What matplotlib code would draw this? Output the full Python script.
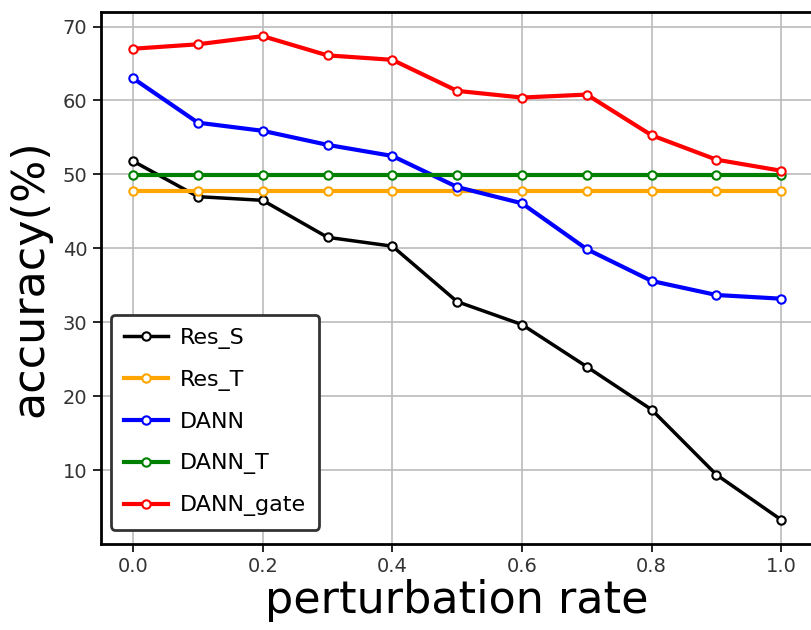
import matplotlib
matplotlib.use('Agg')
import matplotlib.pyplot as plt

# taxa de perturbacao e acuracias
rates = [0.0, 0.1, 0.2, 0.3, 0.4, 0.5, 0.6, 0.7, 0.8, 0.9, 1.0]
res_s = [51.8, 47.0, 46.5, 41.5, 40.3, 32.8, 29.7, 24.0, 18.2, 9.4, 3.3]
res_t = [47.8] * 11
dann = [63.0, 57.0, 55.9, 54.0, 52.5, 48.3, 46.1, 39.9, 35.6, 33.7, 33.2]
dann_t = [49.9] * 11
dann_gate = [67.0, 67.6, 68.7, 66.1, 65.5, 61.3, 60.4, 60.8, 55.3, 52.0, 50.5]

series = [
    ("Res_S", res_s, "black", 2.5),
    ("Res_T", res_t, "orange", 3),
    ("DANN", dann, "blue", 3),
    ("DANN_T", dann_t, "green", 3),
    ("DANN_gate", dann_gate, "red", 3),
]

fig = plt.figure(figsize=(8.12, 6.3), dpi=100)
ax = fig.add_axes([0.124, 0.1365, 0.878, 0.8445])

for nome, vals, cor, lw in series:
    ax.plot(rates, vals, color=cor, linewidth=lw, marker='o', markersize=6,
            markerfacecolor='white', markeredgecolor=cor, markeredgewidth=1.5,
            label=nome)

ax.set_xticks([0.0, 0.2, 0.4, 0.6, 0.8, 1.0])
ax.set_yticks([10, 20, 30, 40, 50, 60, 70])
ax.tick_params(labelsize=14, labelcolor='#333333', length=6, width=1.2,
               direction='out')
ax.grid(True, color='#bbbbbb', linewidth=1.2)
for s in ax.spines.values():
    s.set_linewidth(2)
    s.set_color('black')

ax.set_xlabel("perturbation rate", fontsize=32, labelpad=2)
ax.set_ylabel("accuracy(%)", fontsize=32, labelpad=8)

leg = ax.legend(loc='lower left', bbox_to_anchor=(0.0, 0.008), fontsize=16,
                fancybox=True, framealpha=1, borderpad=0.6, handlelength=2.0,
                handletextpad=0.5, labelspacing=0.95, borderaxespad=0.45)
leg.get_frame().set_edgecolor('#333333')
leg.get_frame().set_linewidth(2)

fig.savefig('out.png', dpi=100)
